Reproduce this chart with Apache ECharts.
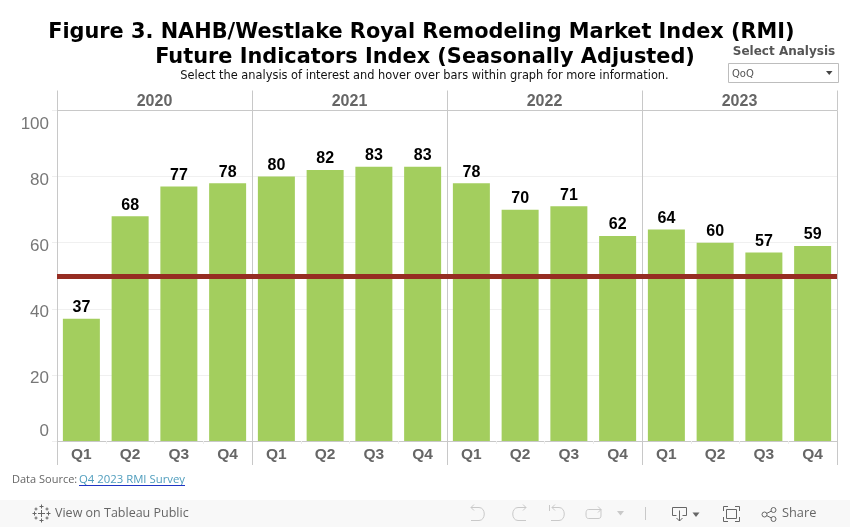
<!DOCTYPE html>
<html lang="en">
<head>
    <meta charset="UTF-8">
    <title>Figure 3. NAHB/Westlake Royal Remodeling Market Index (RMI)</title>
    <script src="https://cdn.jsdelivr.net/npm/echarts@6/dist/echarts.min.js"></script>
    <style>
        html, body { margin: 0; padding: 0; background: #ffffff; }
        #chart { width: 850px; height: 527px; }
    </style>
</head>
<body>
<div id="chart"></div>
<script type="text/javascript">
    // data
    var years = ['2020', '2021', '2022', '2023'];
    var quarters = ['Q1', 'Q2', 'Q3', 'Q4', 'Q1', 'Q2', 'Q3', 'Q4', 'Q1', 'Q2', 'Q3', 'Q4', 'Q1', 'Q2', 'Q3', 'Q4'];
    var rmiValues = [37, 68, 77, 78, 80, 82, 83, 83, 78, 70, 71, 62, 64, 60, 57, 59];
    var referenceLevel = 50;

    var AXIS_GREY = '#c8c8c8';
    var TEXT_GREY = '#666666';
    var SANS = '"Liberation Sans", Arial, sans-serif';
    var VERDANA = '"DejaVu Sans", Verdana, sans-serif';
    var UI_FONT = '"Open Sans", sans-serif';

    // graphic has no plain path type, so each toolbar icon gets its own registered shape
    var shapeCount = 0;
    function pathElement(pathData, style) {
        var name = 'toolbarIcon' + (shapeCount++);
        echarts.graphic.registerShape(name, echarts.graphic.extendPath(pathData, {}));
        return { type: name, silent: true, style: style };
    }
    function icon(pathData, color) {
        return pathElement(pathData, { fill: null, stroke: color, lineWidth: 1 });
    }
    function tri(pathData, color) {
        return pathElement(pathData, { fill: color, stroke: null });
    }
    function label(x, y, text, font, size, color, weight, align) {
        return {
            type: 'text', x: x, y: y, silent: true,
            style: {
                text: text, fontFamily: font, fontSize: size, fill: color,
                fontWeight: weight || 'normal', align: align || 'left', verticalAlign: 'middle'
            }
        };
    }
    function dot(cx, cy) {
        return { type: 'circle', silent: true, shape: { cx: cx, cy: cy, r: 2.5 }, style: { fill: '#f8f8f8', stroke: DARK, lineWidth: 1 } };
    }

    var DIM = '#c9c9c9';
    var DARK = '#666666';

    var graphics = [
        // subtitle
        label(424.5, 76.5, 'Select the analysis of interest and hover over bars within graph for more information.', VERDANA, 11.4, '#111111', 'normal', 'center'),
        // filter control
        label(784, 51.5, 'Select Analysis', VERDANA, 12, '#555555', 'bold', 'center'),
        { type: 'rect', silent: true, shape: { x: 728.5, y: 63.5, width: 110, height: 19 }, style: { fill: '#ffffff', stroke: '#bdbdbd', lineWidth: 1 } },
        label(732, 74.5, 'QoQ', VERDANA, 10, '#555555'),
        tri('M826 71 L832.5 71 L829.25 75 Z', '#444444'),
        // data source
        label(12, 480, 'Data Source:', UI_FONT, 11, '#666666'),
        label(79, 480, 'Q4 2023 RMI Survey', UI_FONT, 11.35, '#4f9dbd'),
        { type: 'line', silent: true, shape: { x1: 79, y1: 485.5, x2: 185, y2: 485.5 }, style: { stroke: '#1f35c4', lineWidth: 1 } },
        // toolbar
        { type: 'rect', silent: true, shape: { x: 0, y: 500, width: 850, height: 27 }, style: { fill: '#f8f8f8' } },
        label(55, 513.5, 'View on Tableau Public', UI_FONT, 12.5, DARK),
        label(782, 513.5, 'Share', UI_FONT, 12.8, DARK),
        // tableau logo
        icon('M41.5 510 V517 M38 513.5 H45 M41.5 504.5 V508.5 M39.5 506.5 H43.5 M41.5 518.5 V522.5 M39.5 520.5 H43.5 M34.5 511.5 V515.5 M32.5 513.5 H36.5 M48.5 511.5 V515.5 M46.5 513.5 H50.5 M36 507.5 V510.5 M34.5 509 H37.5 M47 507.5 V510.5 M45.5 509 H48.5 M36 516.5 V519.5 M34.5 518 H37.5 M47 516.5 V519.5 M45.5 518 H48.5', '#666666'),
        // undo, redo, back, refresh
        icon('M471 507.5 H479 C486 507.5 486 520.5 479 520.5 H471 M474 504.5 L471 507.5 L474 510.5', DIM),
        icon('M526 507.5 H518 C511 507.5 511 520.5 518 520.5 H526 M523 504.5 L526 507.5 L523 510.5', DIM),
        icon('M552 507.5 H559 C566 507.5 566 520.5 559 520.5 H551 M555 504.5 L552 507.5 L555 510.5 M549.5 505 V511', DIM),
        icon('M601 509.5 V515 C601 518 600 518.5 598 518.5 H589 C587 518.5 586 518 586 514 C586 510 587 509.5 589 509.5 H601 M598 506.5 L601 509.5 L598 512.5', DIM),
        tri('M617 511 L624 511 L620.5 515.5 Z', DIM),
        icon('M645.5 507 V520', DIM),
        // download, fullscreen, share
        icon('M676.5 515.5 H672.5 V507.5 H686.5 V515.5 H682.5 M679.5 510.5 V521 M676.5 518 L679.5 521 L682.5 518', DARK),
        tri('M692.5 512.5 L699.5 512.5 L696 517 Z', DARK),
        icon('M723.5 511 V506.5 H728 M735 506.5 H739.5 V511 M739.5 517 V521.5 H735 M728 521.5 H723.5 V517 M726.5 509.5 H736.5 V518.5 H726.5 Z', DARK),
        icon('M764.5 514.5 L773.5 510 M764.5 514.5 L773.5 519', DARK),
        dot(764.5, 514.5),
        dot(773.5, 510),
        dot(773.5, 519)
    ];

    var chart = echarts.init(document.getElementById('chart'));

    var option = {
        animation: false,
        backgroundColor: '#ffffff',
        title: {
            // the trailing space keeps line one a little left of line two, as in the original
            text: 'Figure 3. NAHB/Westlake Royal Remodeling Market Index (RMI) \nFuture Indicators Index (Seasonally Adjusted)',
            left: 420,
            top: 15,
            textAlign: 'center',
            textStyle: { fontFamily: VERDANA, fontSize: 20.85, fontWeight: 'bold', color: '#000000', lineHeight: 25 }
        },
        grid: { left: 57, top: 110.5, width: 780, height: 330.5 },
        xAxis: [
            {   // quarter labels
                type: 'category',
                position: 'bottom',
                data: quarters,
                axisLine: { lineStyle: { color: AXIS_GREY } },
                axisTick: { show: true, length: 3, lineStyle: { color: '#eeeeee' } },
                axisLabel: { interval: 0, margin: 6, fontFamily: SANS, fontSize: 15.5, fontWeight: 'bold', color: TEXT_GREY }
            },
            {   // year header and panel separators
                type: 'category',
                position: 'top',
                data: years,
                axisLine: { lineStyle: { color: AXIS_GREY } },
                axisTick: { show: true, length: 20, lineStyle: { color: AXIS_GREY } },
                axisLabel: { interval: 0, margin: 1, fontFamily: SANS, fontSize: 16, fontWeight: 'bold', color: TEXT_GREY },
                splitLine: { show: true, interval: 0, lineStyle: { color: AXIS_GREY } }
            },
            {   // separators carried on below the axis
                type: 'category',
                position: 'bottom',
                data: years,
                axisLine: { show: false },
                axisTick: { show: true, length: 24, lineStyle: { color: AXIS_GREY } },
                axisLabel: { show: false }
            }
        ],
        yAxis: {
            type: 'value',
            min: 0,
            max: 100,
            interval: 20,
            axisLine: { show: false },
            axisTick: { show: true, length: 5, lineStyle: { color: '#eeeeee' } },
            axisLabel: {
                margin: 8, fontFamily: SANS, fontSize: 17, color: '#777777',
                padding: [5, 0, 1, 0],
                verticalAlignMinLabel: 'bottom',
                verticalAlignMaxLabel: 'top',
                // the end labels are pushed inside the plot, the others sit a bit below their gridline
                formatter: function (value) {
                    return value === 0 || value === 100 ? String(value) : '{mid|' + value + '}';
                },
                rich: {
                    mid: { fontFamily: SANS, fontSize: 17, color: '#777777', padding: [3, 0, 0, 0] }
                }
            },
            splitLine: { lineStyle: { color: '#f0f0f0' } }
        },
        series: [
            {
                name: 'RMI',
                type: 'bar',
                xAxisIndex: 0,
                barWidth: 37,
                data: rmiValues,
                itemStyle: { color: '#a3ce5e' },
                label: {
                    show: true, position: 'top', distance: 3,
                    fontFamily: SANS, fontSize: 16, fontWeight: 'bold', color: '#000000'
                },
                markLine: {
                    silent: true,
                    symbol: 'none',
                    label: { show: false },
                    lineStyle: { type: 'solid', color: '#962d22', width: 5 },
                    data: [{ yAxis: referenceLevel }]
                }
            }
        ],
        graphic: graphics
    };

    chart.setOption(option);
</script>
</body>
</html>
